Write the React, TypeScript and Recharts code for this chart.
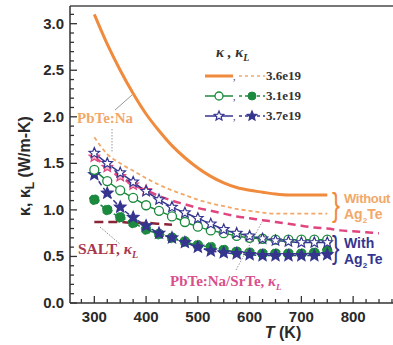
import { LineChart, Line, XAxis, YAxis, ReferenceLine } from 'recharts';

// temperatures (K)
const T = [300, 325, 350, 375, 400, 425, 450, 475, 500, 525, 550, 575, 600, 625, 650, 675, 700, 725, 750];
const T_SRTE = [300, 325, 350, 375, 400, 425, 450, 475, 500, 525, 550, 575, 600, 625, 650, 675, 700, 725, 750, 775, 800, 825, 850];
const T_SALT = [300, 325, 350, 375, 400, 425, 450];

// 3.6e19 without Ag2Te
const K_36 = [3.1, 2.78, 2.5, 2.25, 2.03, 1.85, 1.69, 1.56, 1.45, 1.36, 1.29, 1.24, 1.21, 1.19, 1.17, 1.16, 1.16, 1.16, 1.16];
const KL_36 = [1.78, 1.6, 1.5, 1.42, 1.34, 1.27, 1.21, 1.16, 1.11, 1.07, 1.04, 1.01, 0.99, 0.97, 0.96, 0.96, 0.96, 0.96, 0.96];
// 3.1e19 with Ag2Te
const K_31 = [1.43, 1.31, 1.21, 1.13, 1.05, 0.99, 0.93, 0.87, 0.82, 0.78, 0.75, 0.72, 0.7, 0.69, 0.68, 0.68, 0.68, 0.68, 0.68];
const KL_31 = [1.11, 1.0, 0.92, 0.86, 0.79, 0.74, 0.7, 0.66, 0.62, 0.6, 0.57, 0.55, 0.54, 0.53, 0.53, 0.53, 0.53, 0.54, 0.56];
// 3.7e19 with Ag2Te
const K_37 = [1.61, 1.5, 1.4, 1.3, 1.2, 1.11, 1.03, 0.97, 0.91, 0.85, 0.79, 0.75, 0.72, 0.69, 0.67, 0.66, 0.65, 0.65, 0.65];
const KL_37 = [1.38, 1.18, 1.03, 0.92, 0.83, 0.75, 0.7, 0.65, 0.6, 0.56, 0.54, 0.53, 0.52, 0.51, 0.51, 0.51, 0.51, 0.51, 0.52];
// references
const KL_SRTE = [1.57, 1.46, 1.36, 1.27, 1.21, 1.15, 1.1, 1.06, 1.02, 0.99, 0.96, 0.93, 0.91, 0.89, 0.87, 0.85, 0.83, 0.81, 0.8, 0.78, 0.77, 0.76, 0.75];
const KL_SALT = [0.87, 0.87, 0.87, 0.86, 0.86, 0.85, 0.84];

const X_TICKS = [275, 300, 325, 350, 375, 400, 425, 450, 475, 500, 525, 550, 575, 600, 625, 650, 675, 700, 725, 750, 775, 800, 825, 850, 875];
const X_LABELS = [300, 400, 500, 600, 700, 800];
const Y_TICKS = [0, 0.1, 0.2, 0.3, 0.4, 0.5, 0.6, 0.7, 0.8, 0.9, 1.0, 1.1, 1.2, 1.3, 1.4, 1.5, 1.6, 1.7, 1.8, 1.9, 2.0, 2.1, 2.2, 2.3, 2.4, 2.5, 2.6, 2.7, 2.8, 2.9, 3.0, 3.1];
const Y_LABELS = [0, 0.5, 1.0, 1.5, 2.0, 2.5, 3.0];

const Y_MAX = 3.19;

const ORANGE = '#f08a3c';
const ORANGE_L = '#f2a868';
const GREEN = '#1c8a3e';
const BLUE = '#35358f';
const MAGENTA = '#e0457f';
const DARKRED = '#8a2436';

const pts = (xs: number[], ys: number[]) => xs.map((t, i) => ({ t, v: ys[i] }));

const starPath = (cx: number, cy: number, R: number) => {
  const r = R * 0.45;
  let d = '';
  for (let i = 0; i < 10; i++) {
    const rad = i % 2 === 0 ? R : r;
    const a = -Math.PI / 2 + (i * Math.PI) / 5;
    d += (i === 0 ? 'M' : 'L') + (cx + rad * Math.cos(a)).toFixed(2) + ',' + (cy + rad * Math.sin(a)).toFixed(2);
  }
  return d + 'Z';
};

const Star = ({ cx, cy, fill, stroke, R = 6 }: any) =>
  cx == null || cy == null ? null : <path d={starPath(cx, cy, R)} fill={fill} stroke={stroke} strokeWidth={1.2} />;

const YTick = ({ x, y, payload }: any) => {
  const v = payload.value;
  const major = Y_LABELS.some((m) => Math.abs(m - v) < 1e-6);
  return (
    <g>
      <line x1={x} x2={x + (major ? 7 : 4)} y1={y} y2={y} stroke="#333" strokeWidth={1.3} />
      {major && (
        <text x={x - 6} y={y + 5} textAnchor="end" fontFamily="Liberation Sans, Arial, sans-serif" fontWeight="bold" fontSize={15} fill="#2a2a2a">
          {v.toFixed(1)}
        </text>
      )}
    </g>
  );
};

const XTick = ({ x, y, payload }: any) => {
  const v = payload.value;
  const major = X_LABELS.includes(v);
  return (
    <g>
      <line x1={x} x2={x} y1={y} y2={y - (major ? 7 : 4)} stroke="#333" strokeWidth={1.3} />
      {major && (
        <text x={x} y={y + 19} textAnchor="middle" fontFamily="Liberation Sans, Arial, sans-serif" fontWeight="bold" fontSize={15} fill="#2a2a2a">
          {v}
        </text>
      )}
    </g>
  );
};

const serif = 'Liberation Serif, Times New Roman, serif';
const sans = 'Liberation Sans, Arial, sans-serif';

const Overlay = () => (
  <svg width={393} height={345} style={{ position: 'absolute', left: 0, top: 0, pointerEvents: 'none' }}>
    {/* y label */}
    <text transform="translate(30,166) rotate(-90)" textAnchor="middle" fontFamily={sans} fontWeight="bold" fontSize={16} fill="#2a2a2a">
      κ, κ<tspan dy={4} fontSize={12}>L</tspan>
      <tspan dy={-4}>  (W/m-K)</tspan>
    </text>
    {/* x label */}
    <text x={283} y={338} textAnchor="middle" fontFamily={sans} fontWeight="bold" fontSize={16} fill="#2a2a2a">
      <tspan fontStyle="italic">T</tspan> (K)
    </text>

    {/* legend */}
    <text x={216} y={57} fontFamily={serif} fontStyle="italic" fontWeight="bold" fontSize={15} fill="#333">
      κ  ,  κ<tspan dy={4} fontSize={10}>L</tspan>
    </text>
    <line x1={205} x2={233} y1={76} y2={76} stroke={ORANGE} strokeWidth={3} />
    <text x={233} y={80} fontSize={10} fill="#333">,</text>
    <line x1={239} x2={265} y1={76} y2={76} stroke={ORANGE_L} strokeWidth={1.5} strokeDasharray="3 3" />
    <text x={266} y={80} fontFamily={serif} fontWeight="bold" fontSize={13} fill="#333">3.6e19</text>

    <line x1={205} x2={233} y1={96} y2={96} stroke={GREEN} strokeWidth={1.5} />
    <circle cx={219} cy={96} r={4} fill="#fff" stroke={GREEN} strokeWidth={1.3} />
    <text x={233} y={100} fontSize={10} fill="#333">,</text>
    <line x1={239} x2={265} y1={96} y2={96} stroke={GREEN} strokeWidth={1.5} strokeDasharray="3 3" />
    <circle cx={252} cy={96} r={4} fill={GREEN} stroke={GREEN} />
    <text x={266} y={100} fontFamily={serif} fontWeight="bold" fontSize={13} fill="#333">3.1e19</text>

    <line x1={205} x2={233} y1={116} y2={116} stroke={BLUE} strokeWidth={1.5} />
    <Star cx={219} cy={116} R={5} fill="#fff" stroke={BLUE} />
    <text x={233} y={120} fontSize={10} fill="#333">,</text>
    <line x1={239} x2={265} y1={116} y2={116} stroke={BLUE} strokeWidth={1.5} strokeDasharray="3 3" />
    <Star cx={252} cy={116} R={5} fill={BLUE} stroke={BLUE} />
    <text x={266} y={120} fontFamily={serif} fontWeight="bold" fontSize={13} fill="#333">3.7e19</text>

    {/* annotations */}
    <text x={77} y={123} fontFamily={serif} fontWeight="bold" fontSize={15} fill={ORANGE_L}>PbTe:Na</text>
    <line x1={115} y1={110} x2={132} y2={95} stroke="#999" strokeWidth={1} />
    <line x1={112} y1={129} x2={112} y2={153} stroke="#999" strokeWidth={1} strokeDasharray="1.5 1.5" />

    <text x={78} y={254} fontFamily={serif} fontWeight="bold" fontSize={15.5} fill="#a8384e">
      SALT, <tspan fontStyle="italic">κ</tspan><tspan dy={4} fontSize={10} fontStyle="italic">L</tspan>
    </text>
    <line x1={100} y1={227} x2={120} y2={244} stroke="#888" strokeWidth={1} strokeDasharray="1.5 1.5" />

    <text x={170} y={286} fontFamily={serif} fontWeight="bold" fontSize={15} fill="#d94f8c">
      PbTe:Na/SrTe, <tspan fontStyle="italic">κ</tspan><tspan dy={4} fontSize={9} fontStyle="italic">L</tspan>
    </text>
    <line x1={236} y1={270} x2={262} y2={222} stroke="#999" strokeWidth={1} strokeDasharray="1.5 1.5" />

    {/* braces */}
    <text x={332} y={216} fontFamily={sans} fontSize={34} fill={ORANGE} transform="translate(332,203) scale(0.7,1) translate(-332,-203)">{'}'}</text>
    <text x={344} y={203} fontFamily={sans} fontWeight="bold" fontSize={13} letterSpacing={-0.3} fill={ORANGE_L}>Without</text>
    <text x={344} y={219} fontFamily={sans} fontWeight="bold" fontSize={14} fill={ORANGE_L}>
      Ag<tspan dy={4} fontSize={8}>2</tspan><tspan dy={-4}>Te</tspan>
    </text>
    <text x={332} y={258} fontFamily={sans} fontSize={32} fill={BLUE} transform="translate(332,246) scale(0.7,1) translate(-332,-246)">{'}'}</text>
    <text x={344} y={248} fontFamily={sans} fontWeight="bold" fontSize={14} fill={BLUE}>With</text>
    <text x={344} y={264} fontFamily={sans} fontWeight="bold" fontSize={14} fill={BLUE}>
      Ag<tspan dy={4} fontSize={8}>2</tspan><tspan dy={-4}>Te</tspan>
    </text>
  </svg>
);

export default function App() {
  return (
    <div style={{ position: 'absolute', left: 0, top: 0, width: 393, height: 345, background: '#fff' }}>
      <LineChart width={393} height={345} margin={{ top: 6, right: 0, bottom: 0, left: 0 }}>
        <XAxis
          type="number"
          dataKey="t"
          domain={[253, 877]}
          ticks={X_TICKS}
          allowDataOverflow
          height={42}
          tickSize={0}
          tickMargin={0}
          tickLine={false}
          tick={<XTick />}
          axisLine={{ stroke: '#333', strokeWidth: 1.5 }}
          interval={0}
        />
        <YAxis
          type="number"
          domain={[0, Y_MAX]}
          ticks={Y_TICKS}
          allowDataOverflow
          width={70}
          tickSize={0}
          tickMargin={0}
          tickLine={false}
          tick={<YTick />}
          axisLine={{ stroke: '#333', strokeWidth: 1.5 }}
          interval={0}
        />
        <ReferenceLine y={Y_MAX} stroke="#777" strokeWidth={2} />

        <Line data={pts(T, K_36)} dataKey="v" stroke={ORANGE} strokeWidth={3} dot={false} isAnimationActive={false} type="monotone" />
        <Line data={pts(T, KL_36)} dataKey="v" stroke={ORANGE_L} strokeWidth={1.8} strokeDasharray="4 3" dot={false} isAnimationActive={false} type="monotone" />
        <Line
          data={pts(T_SRTE, KL_SRTE)}
          dataKey="v"
          stroke={MAGENTA}
          strokeWidth={2.5}
          strokeDasharray="8 5"
          isAnimationActive={false}
          type="monotone"
          dot={(p: any) => (p.index < 5 ? <Star key={p.index} cx={p.cx} cy={p.cy} R={5.5} fill="#f4b6cc" stroke={MAGENTA} /> : <g key={p.index} />)}
        />
        <Line data={pts(T_SALT, KL_SALT)} dataKey="v" stroke={DARKRED} strokeWidth={2.5} strokeDasharray="9 5" dot={false} isAnimationActive={false} type="monotone" />

        <Line
          data={pts(T, KL_31)}
          dataKey="v"
          stroke={GREEN}
          strokeWidth={1.5}
          strokeDasharray="5 3"
          isAnimationActive={false}
          type="monotone"
          dot={{ r: 5, fill: GREEN, stroke: GREEN, strokeWidth: 1 }}
        />
        <Line
          data={pts(T, KL_37)}
          dataKey="v"
          stroke={BLUE}
          strokeWidth={1.5}
          strokeDasharray="5 3"
          isAnimationActive={false}
          type="monotone"
          dot={(p: any) => <Star key={p.index} cx={p.cx} cy={p.cy} R={6} fill={BLUE} stroke={BLUE} />}
        />
        <Line
          data={pts(T, K_31)}
          dataKey="v"
          stroke={GREEN}
          strokeWidth={1.5}
          isAnimationActive={false}
          type="monotone"
          dot={{ r: 4.5, fill: '#fff', stroke: GREEN, strokeWidth: 1.3 }}
        />
        <Line
          data={pts(T, K_37)}
          dataKey="v"
          stroke={BLUE}
          strokeWidth={1.5}
          isAnimationActive={false}
          type="monotone"
          dot={(p: any) => <Star key={p.index} cx={p.cx} cy={p.cy} R={5.5} fill="#fff" stroke={BLUE} />}
        />
      </LineChart>
      <Overlay />
    </div>
  );
}
